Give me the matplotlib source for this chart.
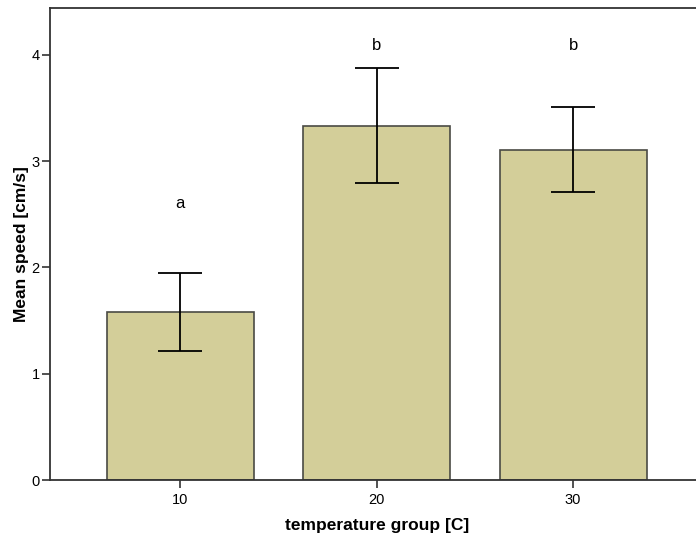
import matplotlib.pyplot as plt
import numpy as np

plt.rcParams['font.family'] = ['Liberation Sans', 'DejaVu Sans']

groups = ['10', '20', '30']
means = [1.584, 3.33, 3.106]
err_low = [1.217, 2.795, 2.71]
err_high = [1.951, 3.878, 3.51]
letters = ['a', 'b', 'b']
letter_y = [2.6, 4.09, 4.09]

fig = plt.figure(figsize=(6.96, 5.39), dpi=100)
ax = fig.add_axes([50 / 696, 59 / 539, 653.5 / 696, 472 / 539])

x = np.arange(len(groups))
means = np.array(means)
yerr = [means - np.array(err_low), np.array(err_high) - means]

ax.bar(x, means, width=0.748, color='#d3ce99', edgecolor='#4a4a44', linewidth=1.2, zorder=2)
ax.errorbar(x, means, yerr=yerr, fmt='none', ecolor='black', elinewidth=1.3,
            capsize=15.5, capthick=1.3, zorder=3)

for xi, lab, ly in zip(x, letters, letter_y):
    ax.text(xi, ly, lab, ha='center', va='center', fontsize=12)

ax.set_xlim(-0.664, 2.664)
ax.set_ylim(0, 4.44)
ax.set_xticks(x)
ax.set_xticklabels(groups)
ax.set_yticks([0, 1, 2, 3, 4])
ax.tick_params(direction='out', length=6, width=1.2, labelsize=10.5, color='#333333')
ax.tick_params(axis='y', pad=1.5)
ax.spines['right'].set_visible(False)
for s in ['left', 'top', 'bottom']:
    ax.spines[s].set_color('#333333')
    ax.spines[s].set_linewidth(1.3)

ax.set_xlabel('temperature group [C]', fontsize=12.5, fontweight='bold', labelpad=8)
ax.set_ylabel('Mean speed [cm/s]', fontsize=12.5, fontweight='bold', labelpad=1.5)

fig.savefig('out.png', dpi=100)
